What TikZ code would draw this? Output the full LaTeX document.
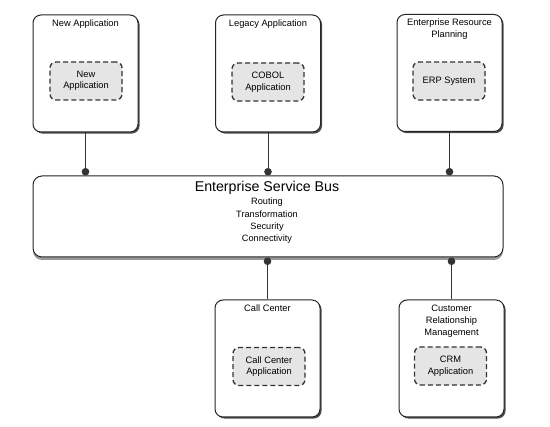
\documentclass[tikz,border=0pt]{standalone}
\usepackage{fontspec}
\setmainfont{Liberation Sans}
\usetikzlibrary{shadows,arrows.meta}
\begin{document}
\begin{tikzpicture}[x=1pt,y=-1pt,
  outer/.style={draw=black!85, line width=1pt, rounded corners=8pt, fill=white,
    minimum width=105pt, minimum height=117pt, inner sep=0pt,
    drop shadow={shadow xshift=1.6pt, shadow yshift=-1.6pt, fill=black!70, opacity=1}},
  inner/.style={draw=black!80, line width=1.3pt, dash pattern=on 5pt off 3pt, rounded corners=6pt,
    fill=black!10, minimum width=72pt, minimum height=38pt, inner sep=0pt, align=center,
    font=\fontsize{9.3}{11.5}\selectfont},
  title/.style={anchor=north, align=center, inner sep=0pt, font=\fontsize{9.3}{12}\selectfont},
  bus/.style={draw=black!85, line width=1pt, rounded corners=9pt, fill=white,
    minimum width=470pt, minimum height=81pt, inner sep=0pt,
    drop shadow={shadow xshift=0pt, shadow yshift=-3pt, fill=black!40, opacity=1}},
  conn/.style={line width=1pt, draw=black!80, -{Circle[length=7.5pt,width=7.5pt]}}
]
\useasboundingbox (0,0) rectangle (550,427);

% top boxes
\node[outer] (b1) at (85.5,73.5) {};
\node[outer] (b2) at (268,73.5) {};
\node[outer] (b3) at (449.5,73) {};
\node[title] (t1) at (85.5,20) {New Application};
\node[title] (t2) at (268,20) {Legacy Application};
\node[title] (t3) at (449.5,19) {Enterprise Resource\\Planning};
\node[inner] (i1) at (86,81) {New\\Application};
\node[inner] (i2) at (268,82) {COBOL\\Application};
\node[inner] (i3) at (449,81) {ERP System};

% bus
\node[bus] (esb) at (268,216.5) {};
\node[anchor=north, inner sep=0pt, font=\fontsize{14.2}{16}\selectfont] (esbt) at (267,181.5) {Enterprise Service Bus};
\node[anchor=north, inner sep=0pt, align=center, font=\fontsize{9.2}{12.3}\selectfont] (esbl) at (267,198)
  {Routing\\Transformation\\Security\\Connectivity};

% bottom boxes
\node[outer] (b4) at (267.5,358.5) {};
\node[outer] (b5) at (451.5,358.5) {};
\node[title] (t4) at (267.5,305) {Call Center};
\node[title] (t5) at (451.5,305) {Customer\\Relationship\\Management};
\node[inner] (i4) at (269,366.5) {Call Center\\Application};
\node[inner] (i5) at (450.5,366) {CRM\\Application};

% connectors
\draw[conn] (b1.south) -- (b1.south |- esb.north);
\draw[conn] (b2.south) -- (b2.south |- esb.north);
\draw[conn] (b3.south) -- (b3.south |- esb.north);
\draw[conn] (b4.north) -- (b4.north |- esb.south);
\draw[conn] (b5.north) -- (b5.north |- esb.south);
\end{tikzpicture}
\end{document}
